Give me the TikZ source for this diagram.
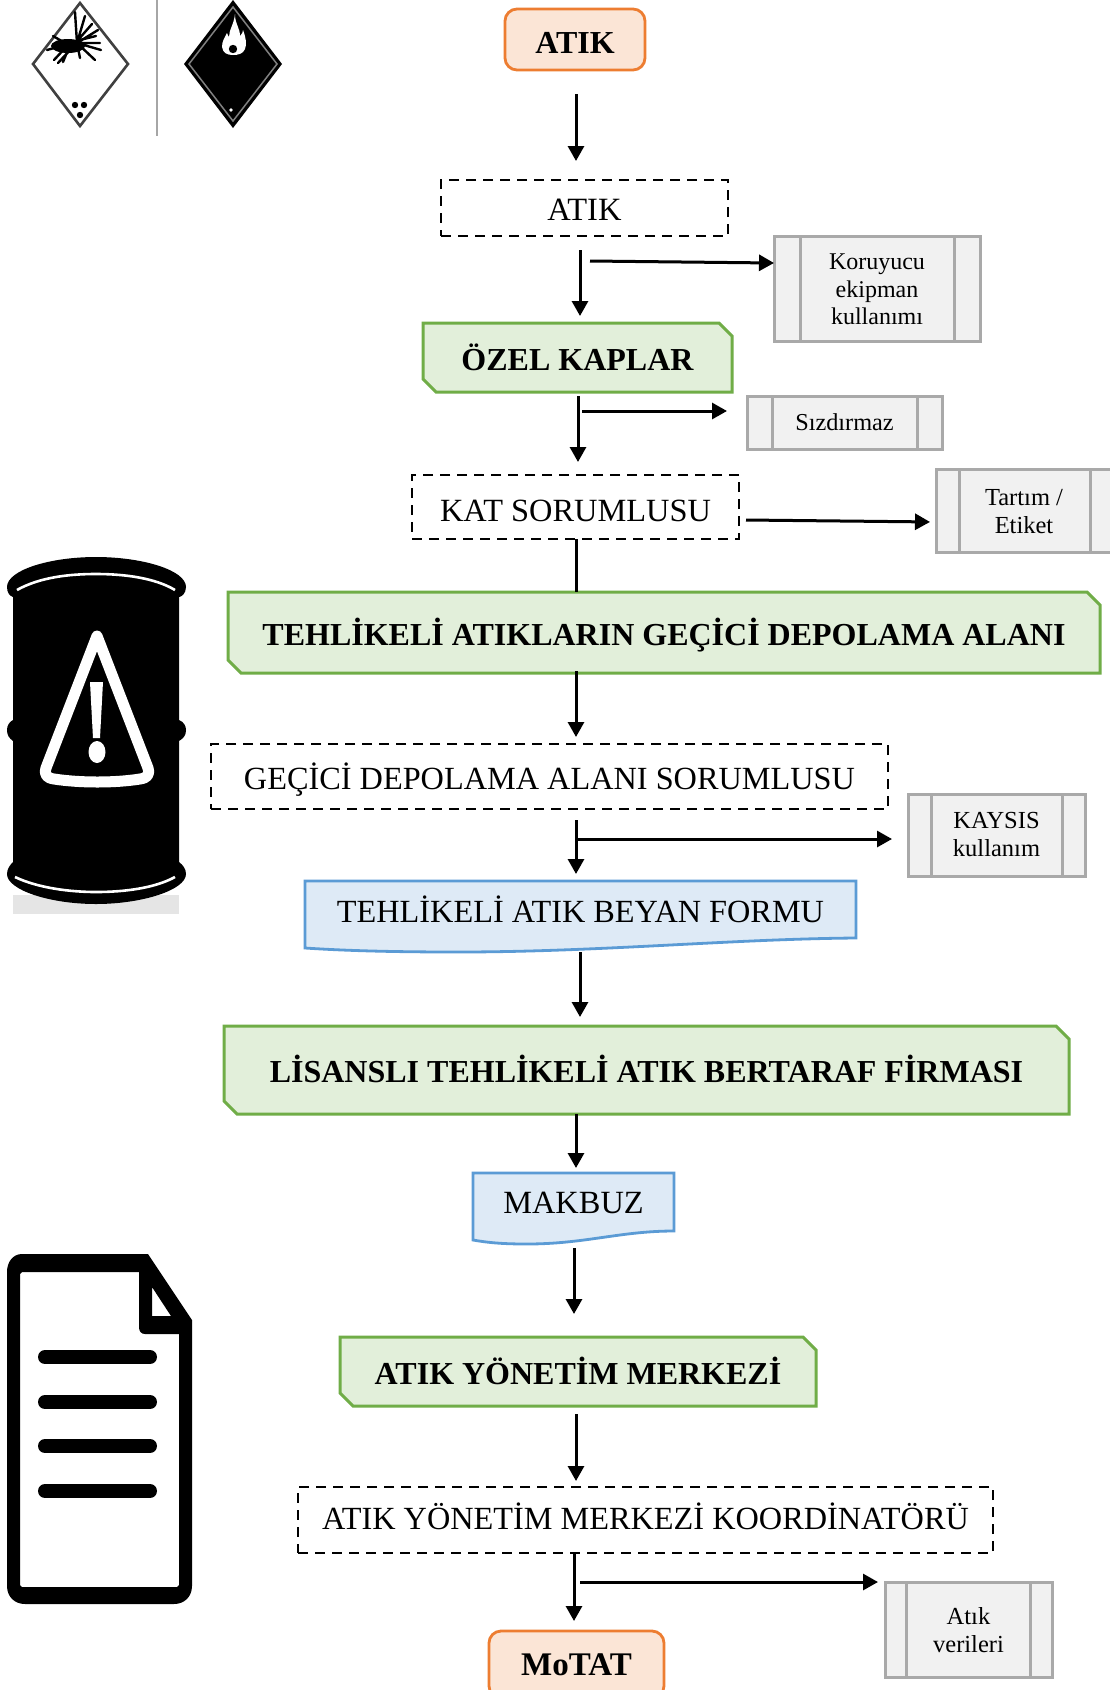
\documentclass[tikz,border=0pt]{standalone}
\usepackage{fontspec}
\setmainfont{Liberation Serif}
\usetikzlibrary{arrows.meta,calc}
\definecolor{gline}{HTML}{70AD47}\definecolor{gfill}{HTML}{E2EFDA}
\definecolor{oline}{HTML}{ED7D31}\definecolor{ofill}{HTML}{FBE5D6}
\definecolor{bline}{HTML}{5B9BD5}\definecolor{bfill}{HTML}{DEEAF6}
\definecolor{sline}{HTML}{A9A9A9}\definecolor{sfill}{HTML}{F1F1F1}
\tikzset{
  basebox/.style={inner sep=0pt,outer sep=0pt,align=center,text=black},
  startbox/.style={basebox,draw=oline,fill=ofill,line width=2.8pt,rounded corners=12pt},
  dashbox/.style={basebox,draw=black,line width=2.8pt,dash pattern=on 10pt off 7pt},
  greenbox/.style={basebox},
  docbox/.style={basebox},
  sidebox/.style={basebox,draw=sline,fill=sfill,line width=3pt},
  arr/.style={line width=3pt,-{Triangle[length=15pt,width=16pt]}},
  plainline/.style={line width=3pt}
}
\def\tdy{2}
% {style}{name}{x1}{y1}{x2}{y2}{size}{text}; \tdy moves the text down
\newcommand\boxat[8]{\node[#1,text height={(#7*.66+2*\tdy)*1pt},text depth=0pt,font=\fontsize{#7}{#7}\selectfont,minimum width={(#5-#3)*1pt},minimum height={(#6-#4)*1pt}] (#2) at ({(#3+#5)/2},{(#4+#6)/2}) {#8};}
\newcommand\snipat[7]{\draw[draw=gline,fill=gfill,line width=3pt] (#2+13,#3) -- (#4-13,#3) -- (#4,#3+13) -- (#4,#5) -- (#2+13,#5) -- (#2,#5-13) -- (#2,#3) -- cycle;
  \boxat{greenbox}{#1}{#2}{#3}{#4}{#5}{#6}{\bfseries #7}}
% {name}{x1}{y1}{x2}{y2}{left inset}{right inset}{size}{lead} + \sidetext, \sdy
\def\sdy{0}
\newcommand\sideat[9]{\node[sidebox,minimum width={(#4-#2)*1pt},minimum height={(#5-#3)*1pt}] (#1) at ({(#2+#4)/2},{(#3+#5)/2}) {};
  \draw[draw=sline,line width=3pt] ([xshift=#6pt]#1.north west) -- ([xshift=#6pt]#1.south west) ([xshift=-#7pt]#1.north east) -- ([xshift=-#7pt]#1.south east);
  \node[basebox,font=\fontsize{#8}{#9}\selectfont] (#1text) at ([yshift=-\sdy pt]#1.center) {\sidetext};}
% {from}{to}{x}{gap start}{gap end}
\newcommand\vconn[5]{\coordinate (cx) at (#3,0); \draw[arr,shorten <=#4pt,shorten >=#5pt] (#1.south -| cx) -- (#2.north -| cx);}
\begin{document}
\begin{tikzpicture}[x=1pt,y=-1pt]
\useasboundingbox (0,0) rectangle (1109,1690);
\fill[white] (0,0) rectangle (1109,1690);

% hazard labels
\draw[draw=black!75,line width=2.6pt,fill=white] (80,3) -- (128,64) -- (80,126) -- (33,64) -- cycle;
\fill[black] (68,46) ellipse [x radius=17,y radius=7];
\draw[black,line width=2.4pt,line cap=round] (77,43) -- (75,12) (77,43) -- (85,16) (78,40) -- (92,24) (77,43) -- (98,30) (77,43) -- (100,43) (77,43) -- (101,50) (77,43) -- (95,60) (77,43) -- (80,58) (70,45) -- (63,62) (68,45) -- (54,60) (65,45) -- (47,50) (65,43) -- (53,36) (80,40) -- (96,36) (72,48) -- (58,63);
\fill[black] (75,105) circle (3.2) (84,105) circle (3.2) (80,115) circle (3.2);
\draw[draw=black!35,line width=2.4pt] (157,0) -- (157,136);
\fill[black] (233,0) -- (282,64) -- (233,128) -- (184,64) -- cycle;
\draw[draw=black!50,line width=1.5pt] (233,7) -- (277,64) -- (233,121) -- (189,64) -- cycle;
\fill[white] (235,14) .. controls (235,24) and (240,28) .. (240,36) .. controls (242,34) and (243,32) .. (243,30) .. controls (246,38) and (247,44) .. (245,49) .. controls (243,54) and (238,55) .. (233,55) .. controls (227,55) and (223,53) .. (222,47) .. controls (222,41) and (225,37) .. (227,33) .. controls (228,35) and (228,36) .. (229,37) .. controls (229,30) and (234,24) .. (235,14) -- cycle;
\fill[black] (233,49) circle (4.2);
\fill[white] (231,110) circle (1.8);

% drum
\fill[black!10] (13,895) rectangle (179,914);
\fill[black] (7,587) .. controls (7,570) and (50,557) .. (96,557) .. controls (142,557) and (186,570) .. (186,587) .. controls (186,594) and (181,597) .. (179,597) -- (179,720) .. controls (184,722) and (186,726) .. (186,730) .. controls (186,735) and (184,738) .. (179,741) -- (179,862) .. controls (183,865) and (186,869) .. (186,874) .. controls (186,890) and (142,904) .. (96,904) .. controls (50,904) and (7,890) .. (7,874) .. controls (7,869) and (10,865) .. (13,862) -- (13,741) .. controls (9,738) and (7,735) .. (7,730) .. controls (7,726) and (9,722) .. (13,720) -- (13,597) .. controls (10,596) and (7,593) .. (7,587) -- cycle;
\draw[white,line width=2.6pt] (17,590) .. controls (40,577) and (70,574) .. (96,574) .. controls (125,574) and (155,578) .. (175,590);
\draw[white,line width=2.6pt] (15,877) .. controls (38,888) and (70,892) .. (96,892) .. controls (125,892) and (155,888) .. (175,877);
\draw[white,line width=11pt,line join=round] (97,636) -- (148,768) .. controls (150,775) and (147,778) .. (140,779) .. controls (115,783) and (80,783) .. (54,779) .. controls (47,778) and (44,775) .. (46,768) -- cycle;
\fill[white] (90,682) -- (103,682) -- (100,738) -- (93,738) -- cycle;
\fill[white] (97,752) ellipse [x radius=8.5,y radius=11];

% document
\fill[black,even odd rule]
  (22,1254) -- (148,1254) -- (192,1320) -- (192,1586) .. controls (192,1597) and (184,1604) .. (174,1604) -- (25,1604) .. controls (15,1604) and (7,1597) .. (7,1586) -- (7,1272) .. controls (7,1262) and (13,1254) .. (22,1254) -- cycle
  (22,1272) -- (139,1272) -- (139,1327) .. controls (139,1331) and (141,1334) .. (145,1334) -- (179,1334) -- (179,1585) -- (177,1587) -- (22,1587) -- (20,1585) -- (20,1274) -- cycle
  (152,1287) -- (171,1316) -- (152,1316) -- cycle;
\draw[black,line width=14pt,line cap=round] (45,1357) -- (150,1357) (45,1402) -- (150,1402) (45,1446) -- (150,1446) (45,1491) -- (150,1491);

% flow nodes
\def\tdy{3}
\boxat{startbox}{atikA}{505}{9}{645}{70}{32}{\bfseries ATIK}
\def\tdy{2}
\boxat{dashbox}{atikB}{441}{180}{728}{236}{32.5}{ATIK}
\snipat{ozel}{423}{323}{732}{392}{32}{ÖZEL KAPLAR}
\def\tdy{4}
\boxat{dashbox}{kat}{412}{475}{739}{539}{32.4}{KAT SORUMLUSU}
\def\tdy{2}
\snipat{depo}{228}{592}{1100}{673}{32}{TEHLİKELİ ATIKLARIN GEÇİCİ DEPOLAMA ALANI}
\boxat{dashbox}{gecici}{211}{744}{888}{809}{32.3}{GEÇİCİ DEPOLAMA ALANI SORUMLUSU}
\draw[draw=bline,fill=bfill,line width=2.8pt] (305,881) -- (856,881) -- (856,938) .. controls (730,939) and (600,952) .. (458,952) .. controls (400,952) and (350,951) .. (305,948) -- cycle;
\boxat{docbox}{beyan}{305}{881}{856}{938}{32.3}{TEHLİKELİ ATIK BEYAN FORMU}
\snipat{lisans}{224}{1026}{1069}{1114}{32}{LİSANSLI TEHLİKELİ ATIK BERTARAF FİRMASI}
\def\tdy{1}
\draw[draw=bline,fill=bfill,line width=2.8pt] (473,1173) -- (674,1173) -- (674,1231) .. controls (620,1231) and (585,1244) .. (527,1244) .. controls (505,1244) and (490,1243) .. (473,1240) -- cycle;
\boxat{docbox}{makbuz}{473}{1173}{674}{1231}{32.4}{MAKBUZ}
\def\tdy{2}
\snipat{merkez}{340}{1337}{816}{1406}{32}{ATIK YÖNETİM MERKEZİ}
\def\tdy{-1}
\boxat{dashbox}{koord}{298}{1487}{993}{1553}{32.3}{ATIK YÖNETİM MERKEZİ KOORDİNATÖRÜ}
\def\tdy{0}
\boxat{startbox}{motat}{489}{1631}{664}{1698}{33}{\bfseries MoTAT}

% side boxes
\def\sidetext{Koruyucu\\ekipman\\kullanımı}\def\sdy{1}
\sideat{koru}{774}{236}{980}{341}{26}{26}{24}{27.5}
\def\sidetext{Sızdırmaz}\def\sdy{0}
\sideat{siz}{747}{396}{942}{449}{25}{25}{24.3}{27.5}
\def\sidetext{Tartım /\\Etiket}\def\sdy{1}
\sideat{tart}{936}{469}{1112}{552}{23}{22}{24.5}{28}
\def\sidetext{KAYSIS\\kullanım}\def\sdy{-1}
\sideat{kaysis}{908}{794}{1085}{876}{23}{23}{24.5}{28}
\def\sidetext{Atık\\verileri}\def\sdy{1}
\sideat{veri}{885}{1582}{1052}{1677}{21}{22}{24.5}{28}

% connectors
\vconn{atikA}{atikB}{576}{24}{19}
\vconn{atikB}{ozel}{580}{14}{7}
\vconn{ozel}{kat}{578}{4}{13}
\coordinate (cx) at (576,0);
\draw[plainline] (kat.south -| cx) -- (depo.north -| cx);
\vconn{depo}{gecici}{576}{-2}{7}
\vconn{gecici}{beyan}{576}{11}{7}
\vconn{beyan}{lisans}{580}{14}{9}
\vconn{lisans}{makbuz}{576}{0}{5}
\vconn{makbuz}{merkez}{574}{17}{23}
\vconn{merkez}{koord}{576}{8}{6}
\vconn{koord}{motat}{574}{0}{10}
\coordinate (sa) at (590,261);
\draw[arr] (sa) -- ($(koru.north west)+(0,27)$);
\coordinate (sb) at (582,411);
\draw[arr,shorten >=20pt] (sb) -- ($(siz.north west)+(0,15)$);
\coordinate (sc) at (746,520);
\draw[arr,shorten >=6pt] (sc) -- ($(tart.north west)+(0,53)$);
\coordinate (sd) at (577,839);
\draw[arr,shorten >=16pt] (sd) -- ($(kaysis.north west)+(0,45)$);
\coordinate (se) at (580,1582);
\draw[arr,shorten >=7pt] (se) -- (veri.north west);
\end{tikzpicture}
\end{document}
